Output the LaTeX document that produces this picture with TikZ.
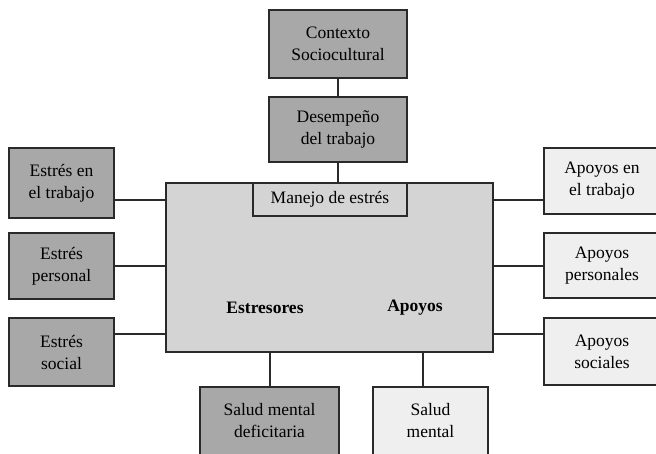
\documentclass[tikz,border=0pt]{standalone}
\usepackage{fontspec}
\setmainfont{Liberation Serif}
\definecolor{darkbox}{HTML}{A8A8A8}
\definecolor{midbox}{HTML}{D4D4D4}
\definecolor{lightbox}{HTML}{EFEFEF}
\definecolor{edge}{HTML}{2A2A2A}
\begin{document}
\begin{tikzpicture}[x=1pt,y=-1pt,
  box/.style={draw=edge,line width=1.6pt,inner sep=0pt,align=center,font=\fontsize{17.5}{22}\selectfont},
  dark/.style={box,fill=darkbox},
  mid/.style={box,fill=midbox},
  light/.style={box,fill=lightbox},
  conn/.style={draw=edge,line width=1.6pt},
  lbl/.style={font=\fontsize{17.5}{22}\selectfont\bfseries,inner sep=0pt}]
\clip (0,0) rectangle (656,453);
\fill[white] (0,0) rectangle (656,453);
% main box
\node[mid,minimum width=327,minimum height=169] (main) at (329.5,267.5) {};
\node[mid,minimum width=154,minimum height=33] (manejo) at (330,199.5) {Manejo de estrés};
\node[lbl] (estr) at (265,308) {Estresores};
\node[lbl] (apo) at (415,308) {Apoyos};
% top
\node[dark,minimum width=138,minimum height=68] (ctx) at (338,44) {Contexto\\Sociocultural};
\node[dark,minimum width=138,minimum height=65] (des) at (338,129.5) {Desempeño\\del trabajo};
% left
\node[dark,minimum width=105,minimum height=70] (l1) at (61.5,183) {Estrés en\\el trabajo};
\node[dark,minimum width=105,minimum height=66] (l2) at (61.5,266) {Estrés\\personal};
\node[dark,minimum width=105,minimum height=68] (l3) at (61.5,352) {Estrés\\social};
% right
\node[light,minimum width=116,minimum height=66] (r1) at (602,181) {Apoyos en\\el trabajo};
\node[light,minimum width=116,minimum height=65] (r2) at (602,265.5) {Apoyos\\personales};
\node[light,minimum width=116,minimum height=67] (r3) at (602,351.5) {Apoyos\\sociales};
% bottom
\node[dark,minimum width=139,minimum height=68] (b1) at (269.5,421) {Salud mental\\deficitaria};
\node[light,minimum width=115,minimum height=68] (b2) at (430.5,421) {Salud\\mental};
% connector reference coordinates
\coordinate (y1) at (0,200);
\coordinate (y2) at (0,266);
\coordinate (y3) at (0,334);
\coordinate (xb1) at (270,0);
\coordinate (xb2) at (423,0);
% connectors
\draw[conn] (ctx.south) -- (des.north);
\draw[conn] (des.south) -- (main.north -| des.south);
\draw[conn] (l1.east |- y1) -- (main.west |- y1);
\draw[conn] (l2.east |- y2) -- (main.west |- y2);
\draw[conn] (l3.east |- y3) -- (main.west |- y3);
\draw[conn] (main.east |- y1) -- (r1.west |- y1);
\draw[conn] (main.east |- y2) -- (r2.west |- y2);
\draw[conn] (main.east |- y3) -- (r3.west |- y3);
\draw[conn] (main.south -| xb1) -- (b1.north -| xb1);
\draw[conn] (main.south -| xb2) -- (b2.north -| xb2);
\end{tikzpicture}
\end{document}
